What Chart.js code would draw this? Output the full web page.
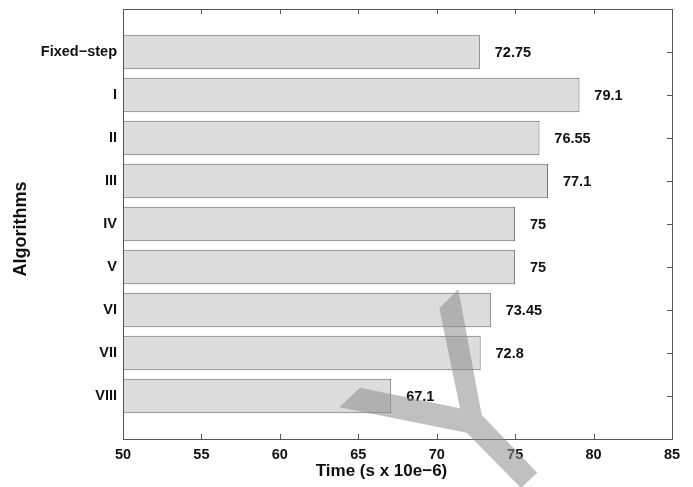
<!DOCTYPE html>
<html>
<head>
<meta charset="utf-8">
<script src="https://cdn.jsdelivr.net/npm/chart.js@4.4.1/dist/chart.umd.min.js"></script>
<style>
    html, body { margin: 0; padding: 0; background: #fff; }
    #contenedor { width: 693px; height: 487px; }
</style>
</head>
<body>
<div id="contenedor"><canvas id="grafico" width="693" height="487"></canvas></div>
<script>
// Tiempos de ejecución por algoritmo
const algoritmos = ['Fixed−step', 'I', 'II', 'III', 'IV', 'V', 'VI', 'VII', 'VIII'];
const tiempos = [72.75, 79.1, 76.55, 77.1, 75, 75, 73.45, 72.8, 67.1];
const ticksTiempo = [50, 55, 60, 65, 70, 75, 80, 85];

// Una categoría vacía arriba y abajo deja el eje de 0 a 10
const etiquetas = ['', ...algoritmos, ''];
const datos = [null, ...tiempos, null];

const FUENTE = '"Liberation Sans", Arial, Helvetica, sans-serif';
const COLOR_TEXTO = '#111';

// Marcas de los ejes hacia dentro (por debajo de las barras)
const marcasEjes = {
    id: 'marcasEjes',
    beforeDatasetsDraw(chart) {
        const { ctx, chartArea: a, scales: { x, y } } = chart;
        const largo = 5;
        ctx.save();
        ctx.strokeStyle = '#555';
        ctx.lineWidth = 1;
        ctx.beginPath();
        ticksTiempo.forEach(v => {
            const px = Math.round(x.getPixelForValue(v)) + 0.5;
            ctx.moveTo(px, a.bottom); ctx.lineTo(px, a.bottom - largo);
            ctx.moveTo(px, a.top); ctx.lineTo(px, a.top + largo);
        });
        for (let i = 1; i <= algoritmos.length; i++) {
            const py = Math.round(y.getPixelForValue(i)) + 0.5;
            ctx.moveTo(a.left, py); ctx.lineTo(a.left + largo, py);
            ctx.moveTo(a.right, py); ctx.lineTo(a.right - largo, py);
        }
        ctx.stroke();
        ctx.restore();
    },
    afterDatasetsDraw(chart) {
        const { ctx, chartArea: a, scales: { x } } = chart;
        ctx.save();
        ctx.strokeStyle = '#555';
        ctx.lineWidth = 1;
        ctx.strokeRect(Math.round(a.left) + 0.5, Math.round(a.top) + 0.5,
            Math.round(a.right - a.left), Math.round(a.bottom - a.top));

        // Valor al final de cada barra
        ctx.font = 'bold 14.5px ' + FUENTE;
        ctx.fillStyle = COLOR_TEXTO;
        ctx.textAlign = 'left';
        ctx.textBaseline = 'middle';
        const meta = chart.getDatasetMeta(0);
        meta.data.forEach((barra, i) => {
            const v = datos[i];
            if (v == null) return;
            ctx.fillText(String(v), x.getPixelForValue(v + 0.95), barra.y + 1);
        });
        ctx.restore();
    },
    afterDraw(chart) {
        const { ctx, chartArea: a } = chart;
        ctx.save();
        ctx.fillStyle = COLOR_TEXTO;
        ctx.font = 'bold 17px ' + FUENTE;
        ctx.textAlign = 'center';
        ctx.textBaseline = 'middle';
        ctx.fillText('Time (s x 10e−6)', (a.left + a.right) / 2 - 16, 471);
        ctx.font = 'bold 18px ' + FUENTE;
        ctx.translate(21, (a.top + a.bottom) / 2 + 5);
        ctx.rotate(-Math.PI / 2);
        ctx.fillText('Algorithms', 0, 0);
        ctx.restore();

        // Marca de agua en forma de Y
        ctx.save();
        ctx.fillStyle = 'rgba(140, 140, 140, 0.55)';
        ctx.beginPath();
        ctx.moveTo(439.3, 308.3);
        ctx.lineTo(458.3, 289.3);
        ctx.lineTo(481.7, 415);
        ctx.lineTo(537.3, 472.7);
        ctx.lineTo(521, 488);
        ctx.lineTo(466.7, 432.7);
        ctx.lineTo(339.3, 407.3);
        ctx.lineTo(360, 387.7);
        ctx.lineTo(460, 408.3);
        ctx.closePath();
        ctx.fill();
        ctx.restore();
    }
};

new Chart(document.getElementById('grafico'), {
    type: 'bar',
    data: {
        labels: etiquetas,
        datasets: [{
            data: datos,
            backgroundColor: '#dcdcdc',
            borderColor: '#666',
            borderWidth: 1,
            categoryPercentage: 0.8,
            barPercentage: 1.0
        }]
    },
    options: {
        indexAxis: 'y',
        responsive: false,
        animation: false,
        devicePixelRatio: 1,
        layout: { padding: { top: 9, right: 21, left: 0, bottom: 0 } },
        plugins: {
            legend: { display: false },
            tooltip: { enabled: false }
        },
        scales: {
            x: {
                type: 'linear',
                min: 50,
                max: 85,
                afterBuildTicks: s => { s.ticks = ticksTiempo.map(v => ({ value: v })); },
                afterFit: s => {
                    s.height = 48;
                    s.paddingLeft = 0;
                    s.paddingRight = 0;
                },
                grid: { display: false, drawTicks: false },
                border: { display: false },
                ticks: {
                    padding: 7,
                    color: COLOR_TEXTO,
                    font: { family: FUENTE, size: 14.5, weight: 'bold' },
                    maxRotation: 0
                }
            },
            y: {
                type: 'category',
                offset: false,
                afterFit: s => {
                    s.width = 123;
                    s.paddingTop = 0;
                    s.paddingBottom = 0;
                },
                grid: { display: false, drawTicks: false },
                border: { display: false },
                ticks: {
                    padding: 6,
                    color: COLOR_TEXTO,
                    font: { family: FUENTE, size: 14.5, weight: 'bold' },
                    autoSkip: false
                }
            }
        }
    },
    plugins: [marcasEjes]
});
</script>
</body>
</html>
